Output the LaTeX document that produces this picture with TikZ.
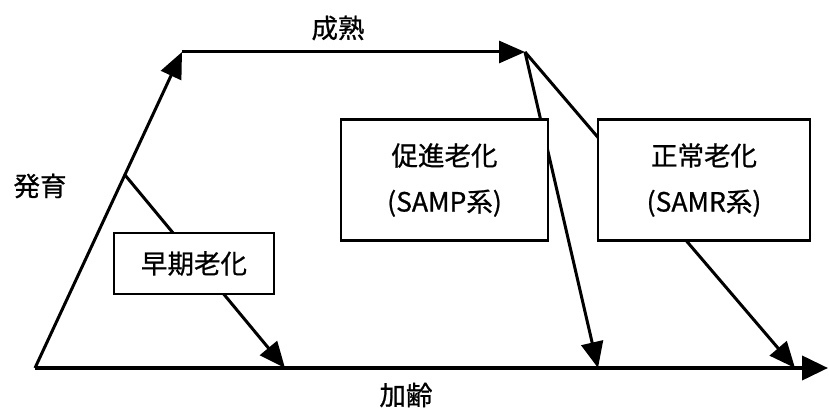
\documentclass[tikz,border=0pt]{standalone}
\usepackage{fontspec}
\setmainfont{Noto Sans CJK JP}[FakeBold=0.8]
\usetikzlibrary{arrows.meta}
\begin{document}
\begin{tikzpicture}[x=1pt,y=-1pt,
  conn/.style={line width=3pt,-{Triangle[length=26pt,width=22pt]}},
  axis/.style={line width=4pt,-{Triangle[length=26pt,width=24pt]}},
  box/.style={draw,line width=2.5pt,fill=white,align=center,inner sep=0pt,
    font=\fontsize{26.5}{46}\selectfont},
  lab/.style={font=\fontsize{26.5}{30}\selectfont,inner sep=0pt}]
\useasboundingbox (0,0) rectangle (829,411);
\coordinate (O) at (35,368);
\coordinate (T) at (182,52);
\coordinate (M) at (525,52);
\coordinate (B) at (125,175);
\coordinate (E) at (828,368);
\coordinate (e1) at (285,368);
\coordinate (e2) at (598,368);
\coordinate (e3) at (795,368);
% connectors
\draw[axis] (O) -- (E);
\draw[conn] (O) -- (T);
\draw[conn] (T) -- (M);
\draw[conn] (B) -- (e1);
\draw[conn] (M) -- (e2);
\draw[conn] (M) -- (e3);
% boxes
\node[box,minimum width=160pt,minimum height=61pt] (early) at (194,263.5) {早期老化};
\node[box,minimum width=207pt,minimum height=121pt] (accel) at (444.5,180) {促進老化\\(SAMP系)};
\node[box,minimum width=212pt,minimum height=121pt] (normal) at (704,180) {正常老化\\(SAMR系)};
% labels
\node[lab] (lmat) at (338,28) {成熟};
\node[lab] (ldev) at (40,186) {発育};
\node[lab] (lage) at (406,395) {加齢};
\end{tikzpicture}
\end{document}
